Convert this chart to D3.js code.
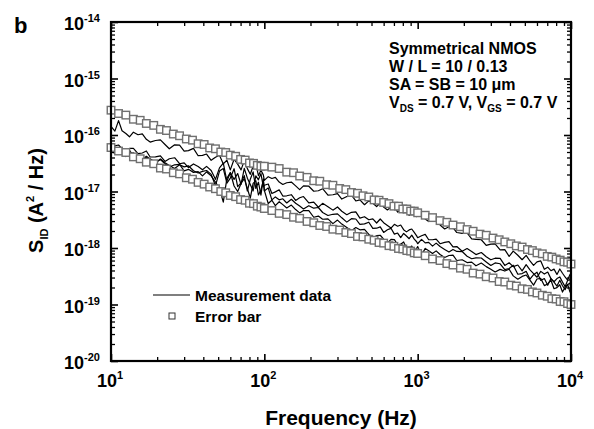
<!DOCTYPE html>
<html>
<head>
<meta charset="utf-8">
<script src="https://cdn.jsdelivr.net/npm/d3@7"></script>
<style>
  body { margin: 0; background: #fff; }
  svg { font-family: "Liberation Sans", Arial, Helvetica, sans-serif; font-weight: bold; }
</style>
</head>
<body>
<div id="grafica_ruido"></div>
<script>
// frequency grid of the measured spectra (Hz), three sweeps: 10-100, 100-1k, 1k-10k
var freq = [10,10.6,11.2,11.8,12.5,13.2,14,15,16,17,18,19.5,21,22.5,24,26,28,30,32,34.5,37,39.5,42,45,48,51,54,57,60,63.5,67,70.5,74,77.5,81,84.5,88,91.5,95,98.5,
  100,106,112,118,125,132,140,150,160,170,180,195,210,225,240,260,280,300,320,345,370,395,420,450,480,510,540,570,600,635,670,705,740,775,810,845,880,915,950,985,
  1000,1060,1120,1180,1250,1320,1400,1500,1600,1700,1800,1950,2100,2250,2400,2600,2800,3000,3200,3450,3700,3950,4200,4500,4800,5100,5400,5700,6000,6350,6700,7050,7400,7750,8100,8450,8800,9150,9500,9850,10000];

// S_ID of the measured devices, in units of 1e-18 A^2/Hz
var measA = [142,117,180,119,106,93,112,101,105,84,75,80,82,68,57,67,66,52,53,58,43,43.5,46,35.6,40.4,44,30.8,35.7,24.1,37.2,30.5,24.1,35.2,25.4,20.2,27.9,31.7,19.0,23.8,19.7,
  15.7,18.3,17.0,17.8,14.7,13.3,14.3,14.7,12.6,10.8,12.6,12.4,10.1,10.3,11.2,8.65,8.76,9.2,7.34,8.13,8.6,6.8,7.09,5.83,6.84,6.19,5.41,6.26,5.32,4.72,5.29,5.43,4.32,4.63,4.22,4.38,3.77,4.53,3.95,3.59,
  3.89,3.92,3.26,2.94,3.05,3.0,2.56,2.17,2.37,2.30,1.88,1.82,1.86,1.45,1.42,1.40,1.11,1.17,1.18,0.93,0.934,0.71,0.88,0.744,0.62,0.742,0.589,0.492,0.57,0.59,0.42,0.457,0.397,0.423,0.34,0.425,0.357,0.307,0.271,0.34,0.30];
var measB = [60.0,64.4,66.5,57.4,49.5,57.8,57.9,46.7,48.0,52.2,40.8,40.9,42.8,34.1,38.0,39.6,31.0,32.2,26.5,30.8,27.6,24.2,27.8,23.5,16.4,26.2,31.8,15.3,21.4,16.4,20.8,13.3,25.6,17.2,13.3,10.2,19.0,16.1,20.7,12.2,
  12.9,13.6,9.2,9.86,10.7,8.31,8.4,8.77,6.96,7.74,8.15,6.31,6.48,5.26,6.17,5.39,4.68,5.32,4.47,3.88,4.28,4.35,3.37,3.58,3.16,3.28,2.77,3.26,2.81,2.51,2.25,2.63,2.43,2.55,2.11,1.93,2.09,2.17,1.89,1.64,
  1.52,1.65,1.74,1.40,1.40,1.44,1.19,1.26,1.30,1.05,1.06,0.875,0.976,0.87,0.765,0.833,0.702,0.618,0.66,0.654,0.492,0.548,0.469,0.50,0.393,0.507,0.409,0.351,0.304,0.386,0.346,0.375,0.287,0.253,0.288,0.308,0.251,0.207,0.266,0.275,0.212];
var measC = [52.9,53.6,56.6,45.5,50.7,53.6,42.3,43.7,35.8,42.0,37.6,32.6,36.9,30.9,27.1,29.7,30.1,23.2,24.7,21.8,22.5,18.9,22.2,18.9,14.7,11.2,6.5,17.1,21.7,12.5,10.0,13.9,16.9,11.3,7.6,13.9,15.6,8.7,10.6,15.7,
  10.5,6.13,7.01,5.63,6.59,5.85,5.11,5.75,4.79,4.18,4.61,4.60,3.50,3.67,3.23,3.27,2.70,3.12,2.65,2.30,2.02,2.30,2.10,2.13,1.74,1.55,1.65,1.68,1.44,1.22,1.42,1.41,1.14,1.17,1.28,1.00,1.02,1.08,0.874,0.986,
  1.06,0.747,0.985,0.894,0.799,0.889,0.768,0.681,0.736,0.745,0.601,0.62,0.553,0.563,0.484,0.542,0.468,0.419,0.377,0.418,0.391,0.421,0.321,0.28,0.314,0.333,0.27,0.22,0.283,0.289,0.216,0.231,0.269,0.19,0.199,0.224,0.166,0.202,0.228,0.166,0.185];
var measD = [53.2,47.2,54.7,46.7,41.5,46.7,48.2,37.5,40.4,36.3,38.0,31.9,37.5,32.2,28.9,25.6,29.7,27.3,28.5,23.3,21.2,22.7,23.5,20.1,12.6,23.0,25.5,14.1,17.3,25.3,12.2,14.2,19.1,10.2,16.5,22.2,11.3,14.6,8.6,16.7,
  10.2,11.6,7.1,8.02,7.13,7.43,6.26,7.29,6.21,5.52,4.92,5.61,5.07,5.21,4.25,3.76,3.95,4.01,3.42,2.87,3.30,3.26,2.62,2.67,2.86,2.22,2.24,2.36,1.89,2.10,2.23,1.76,1.84,1.53,1.81,1.63,1.46,1.69,1.44,1.29,
  1.19,1.42,1.23,1.26,1.08,1.22,1.06,0.945,0.848,0.943,0.87,0.866,0.715,0.646,0.668,0.665,0.567,0.49,0.544,0.526,0.413,0.433,0.495,0.343,0.353,0.386,0.281,0.337,0.373,0.266,0.288,0.219,0.288,0.249,0.212,0.268,0.215,0.183,0.223,0.24,0.173];

// error bar envelope (same units)
var errFreq = [10,11.2,12.5,14,15.5,17,19,21,23,25.5,28,31,34,37,40.5,44,48,52,56,60,65,70,75,80,85,90,95,100,
  112,125,140,155,170,190,210,230,255,280,310,340,370,405,440,480,520,560,600,650,700,750,800,850,900,950,1000,
  1120,1250,1400,1550,1700,1900,2100,2300,2550,2800,3100,3400,3700,4050,4400,4800,5200,5600,6000,6500,7000,7500,8000,8500,9000,9500,10000];
var errUpper = [275,240,225,190,182,160,148,126,120,104,97,85,81,70,68,59,57,50,49,44,42,37,36,32,31.5,29,28,28,
  27,25.5,22,21.5,18.8,17.8,15.5,15.2,13.2,12.9,11.3,10.8,9.6,9.3,8.4,8.0,7.1,7.0,6.4,6.1,5.5,5.5,4.9,4.9,4.5,4.5,4.2,
  3.8,3.45,3.05,2.85,2.55,2.38,2.12,1.98,1.76,1.68,1.5,1.4,1.28,1.19,1.09,1.04,0.94,0.9,0.82,0.79,0.71,0.69,0.64,0.61,0.57,0.56,0.52];
var errLower = [60,52,49,41,38,33,31,26,25,21.5,20.5,17.5,16.5,14.5,13.5,12,11.2,10,9.5,8.5,8.1,7.2,7,6.2,6.1,5.5,5.3,5.0,
  4.6,4.1,3.9,3.5,3.35,2.95,2.8,2.5,2.4,2.15,2.08,1.88,1.8,1.6,1.57,1.43,1.37,1.25,1.22,1.1,1.07,0.98,0.96,0.9,0.88,0.82,0.8,
  0.73,0.64,0.6,0.53,0.5,0.44,0.42,0.36,0.345,0.31,0.295,0.255,0.25,0.22,0.212,0.19,0.185,0.167,0.16,0.146,0.14,0.127,0.125,0.113,0.112,0.104,0.1];

var unit = 1e-18;
var xTickExp = [1, 2, 3, 4];
var yTickExp = [-20, -19, -18, -17, -16, -15, -14];
var infoLines = ["Symmetrical NMOS", "W / L = 10 / 0.13", "SA = SB = 10 \u03bcm"];

var w_full = 594,
    h_full = 429;
var margin = { top: 22, right: 23, bottom: 68, left: 111 };
var w = w_full - margin.left - margin.right,
    h = h_full - margin.top - margin.bottom;

var svgRoot = d3.select("#grafica_ruido")
    .append("svg")
    .attr("width", w_full)
    .attr("height", h_full);

var svgC = svgRoot.append("g")
    .attr("transform", "translate(" + margin.left + "," + margin.top + ")");

var x = d3.scaleLog().domain([10, 1e4]).range([0, w]);
var y = d3.scaleLog().domain([1e-20, 1e-14]).range([h, 0]);

// tick marks, all pointing inward
function isMajor(v) { return Math.abs(Math.log10(v) - Math.round(Math.log10(v))) < 1e-6; }
var xMinor = x.ticks().filter(function(v) { return !isMajor(v); }),
    xMajor = x.ticks().filter(isMajor),
    yMinor = y.ticks().filter(function(v) { return !isMajor(v); }),
    yMajor = y.ticks().filter(isMajor);

function tickGroup(axis, tx, ty, vals, size, sw) {
    svgC.append("g")
        .attr("transform", "translate(" + tx + "," + ty + ")")
        .call(axis.tickValues(vals).tickSize(-size).tickFormat(""))
        .call(function(g) { g.select(".domain").remove(); })
        .selectAll("line")
        .attr("stroke", "#000")
        .attr("stroke-width", sw);
}
tickGroup(d3.axisBottom(x), 0, h, xMinor, 4, 1.3);
tickGroup(d3.axisBottom(x), 0, h, xMajor, 7, 1.6);
tickGroup(d3.axisTop(x), 0, 0, xMinor, 4, 1.3);
tickGroup(d3.axisTop(x), 0, 0, xMajor, 7, 1.6);
tickGroup(d3.axisLeft(y), 0, 0, yMinor, 4, 1.3);
tickGroup(d3.axisLeft(y), 0, 0, yMajor, 7, 1.6);
tickGroup(d3.axisRight(y), w, 0, yMinor, 4, 1.3);
tickGroup(d3.axisRight(y), w, 0, yMajor, 7, 1.6);

// measured spectra
var line = d3.line()
    .x(function(d) { return x(d[0]); })
    .y(function(d) { return y(d[1] * unit); });

[measA, measB, measC, measD].forEach(function(vals) {
    svgC.append("path")
        .datum(freq.map(function(f, i) { return [f, vals[i]]; }))
        .attr("fill", "none")
        .attr("stroke", "#000")
        .attr("stroke-width", 1.2)
        .attr("stroke-linejoin", "round")
        .attr("d", line);
});

// error bar squares
var sq = 7.5;
[errUpper, errLower].forEach(function(vals) {
    svgC.selectAll(null)
        .data(errFreq.map(function(f, i) { return [f, vals[i]]; }))
        .enter()
        .append("rect")
        .attr("x", function(d) { return x(d[0]) - sq / 2; })
        .attr("y", function(d) { return y(d[1] * unit) - sq / 2; })
        .attr("width", sq)
        .attr("height", sq)
        .attr("fill", "#fff")
        .attr("stroke", "#707070")
        .attr("stroke-width", 1.4);
});

// frame
svgC.append("rect")
    .attr("x", 0).attr("y", 0)
    .attr("width", w).attr("height", h)
    .attr("fill", "none")
    .attr("stroke", "#000")
    .attr("stroke-width", 2.2);

// tick labels 10^n
svgC.selectAll(".ylab")
    .data(yTickExp)
    .enter()
    .append("text")
    .attr("class", "ylab")
    .attr("x", -11)
    .attr("y", function(d) { return y(Math.pow(10, d)) + 8; })
    .attr("text-anchor", "end")
    .style("font-size", "18px")
    .each(function(d) {
        var t = d3.select(this);
        t.append("tspan").text("10");
        t.append("tspan").attr("dy", -8).style("font-size", "11px").text(d);
    });

svgC.selectAll(".xlab")
    .data(xTickExp)
    .enter()
    .append("text")
    .attr("class", "xlab")
    .attr("x", function(d) { return x(Math.pow(10, d)) - 1; })
    .attr("y", h + 26)
    .attr("text-anchor", "middle")
    .style("font-size", "18px")
    .each(function(d) {
        var t = d3.select(this);
        t.append("tspan").text("10");
        t.append("tspan").attr("dy", -8).style("font-size", "11px").text(d);
    });

// axis titles
svgRoot.append("text")
    .attr("x", margin.left + w / 2)
    .attr("y", 425)
    .attr("text-anchor", "middle")
    .style("font-size", "21px")
    .text("Frequency (Hz)");

var yTitle = svgRoot.append("text")
    .attr("transform", "translate(43," + (margin.top + h / 2 + 9) + ") rotate(-90)")
    .attr("text-anchor", "middle")
    .style("font-size", "20px");
yTitle.append("tspan").text("S");
yTitle.append("tspan").attr("dy", 5).style("font-size", "11px").text("ID");
yTitle.append("tspan").attr("dy", -5).text(" (A");
yTitle.append("tspan").attr("dy", -9).style("font-size", "11px").text("2");
yTitle.append("tspan").attr("dy", 9).text(" / Hz)");

// panel letter
svgRoot.append("text")
    .attr("x", 14)
    .attr("y", 33)
    .style("font-size", "22px")
    .text("b");

// device info
var info = svgRoot.append("g").style("font-size", "16px");
infoLines.forEach(function(s, i) {
    info.append("text").attr("x", 389).attr("y", 54 + i * 18).text(s);
});
var vLine = info.append("text").attr("x", 389).attr("y", 108);
vLine.append("tspan").text("V");
vLine.append("tspan").attr("dy", 4).style("font-size", "10px").text("DS");
vLine.append("tspan").attr("dy", -4).text(" = 0.7 V, V");
vLine.append("tspan").attr("dy", 4).style("font-size", "10px").text("GS");
vLine.append("tspan").attr("dy", -4).text(" = 0.7 V");

// legend
svgRoot.append("line")
    .attr("x1", 153).attr("x2", 190)
    .attr("y1", 295).attr("y2", 295)
    .attr("stroke", "#555")
    .attr("stroke-width", 1.3);
svgRoot.append("text").attr("x", 195).attr("y", 301).style("font-size", "15.5px").text("Measurement data");
svgRoot.append("rect")
    .attr("x", 169).attr("y", 313)
    .attr("width", 6).attr("height", 6)
    .attr("fill", "#fff")
    .attr("stroke", "#333")
    .attr("stroke-width", 1);
svgRoot.append("text").attr("x", 195).attr("y", 322).style("font-size", "15.5px").text("Error bar");
</script>
</body>
</html>
